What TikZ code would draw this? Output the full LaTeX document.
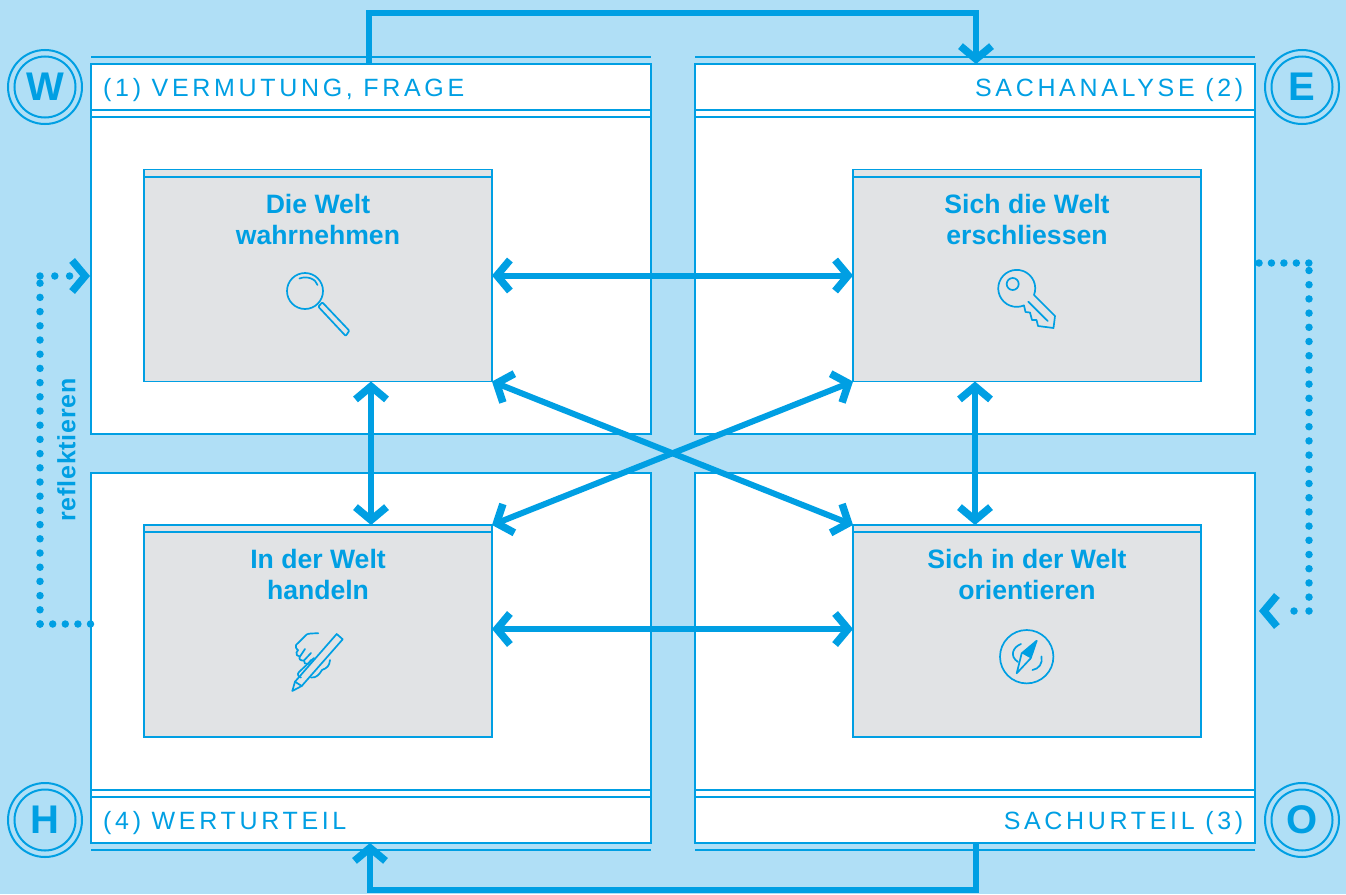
\documentclass[tikz,border=0pt]{standalone}
\usepackage{fontspec}
\setmainfont{Liberation Sans}
\newfontfamily\hdrfont[LetterSpace=14.7]{Liberation Sans}
\newfontfamily\reflfont[LetterSpace=3]{Liberation Sans Bold}
\usetikzlibrary{arrows.meta,calc}
\definecolor{bg}{HTML}{B0DFF6}
\definecolor{blue}{HTML}{009FE3}
\definecolor{greybox}{HTML}{E1E3E5}
\tikzset{
  panel/.style={draw=blue,line width=2pt,fill=white,minimum width=560pt,minimum height=370pt,inner sep=0pt,outer sep=0pt},
  inner box/.style={draw=blue,line width=1.6pt,fill=greybox,minimum width=348pt,minimum height=212pt,inner sep=0pt,outer sep=0pt},
  rule/.style={draw=blue,line width=1.8pt},
  stripe/.style={draw=blue,line width=1.6pt},
  hdr/.style={text=blue,inner sep=0pt,font=\hdrfont\fontsize{25}{30}\selectfont},
  ttl/.style={text=blue,inner sep=0pt,align=center,font=\bfseries\fontsize{26.6}{31}\selectfont},
  letterc/.style={draw=blue,line width=2pt,circle,minimum size=74pt,inner sep=0pt,text=blue,font=\bfseries\fontsize{40}{40}\selectfont},
  link/.style={draw=blue,line width=6pt},
  chev/.tip={Straight Barb[length=13pt,width=31pt,line width=7.5pt]},
  both/.style={link,chev-chev},
  one/.style={link,-chev},
  dots/.style={draw=blue,line width=7.5pt,line cap=round},
  icon/.style={draw=blue,line width=1.7pt,line join=round,line cap=round},
}
\begin{document}
\begin{tikzpicture}[x=1pt,y=-1pt]
\useasboundingbox (0,0) rectangle (1346,894);
\fill[bg] (0,0) rectangle (1346,894);
% panels
\node[panel] (tl) at (371,249) {};
\node[panel] (tr) at (975,249) {};
\node[panel] (bl) at (371,658) {};
\node[panel] (br) at (975,658) {};
% rules of the panels
\draw[rule] (91,57) -- (651,57) (91,110) -- (651,110) (91,117) -- (651,117);
\draw[rule] (695,57) -- (1255,57) (695,110) -- (1255,110) (695,117) -- (1255,117);
\draw[rule] (91,850) -- (651,850) (91,790) -- (651,790) (91,797) -- (651,797);
\draw[rule] (695,850) -- (1255,850) (695,790) -- (1255,790) (695,797) -- (1255,797);
% inner boxes
\node[inner box] (a) at (318,275.5) {};
\node[inner box] (b) at (1027,275.5) {};
\node[inner box] (c) at (318,631) {};
\node[inner box] (d) at (1027,631) {};
\draw[stripe] (144,177) -- (492,177) (853,177) -- (1201,177) (144,532) -- (492,532) (853,532) -- (1201,532);
% headers
\node[hdr,anchor=base west] (h1) at (103,96) {(1) VERMUTUNG, FRAGE};
\node[hdr,anchor=base east] (h2) at (1243.5,96) {SACHANALYSE (2)};
\node[hdr,anchor=base east] (h3) at (1243.5,829) {SACHURTEIL (3)};
\node[hdr,anchor=base west] (h4) at (103,829) {(4) WERTURTEIL};
% titles
\node[ttl,anchor=base] (t1) at (318,244) {Die Welt\\wahrnehmen};
\node[ttl,anchor=base] (t2) at (1027,244) {Sich die Welt\\erschliessen};
\node[ttl,anchor=base] (t3) at (318,599) {In der Welt\\handeln};
\node[ttl,anchor=base] (t4) at (1027,599) {Sich in der Welt\\orientieren};
% letter circles
\node[letterc] (cw) at (45,87) {W};
\node[letterc] (ce) at (1302,87) {E};
\node[letterc] (ch) at (45,820) {H};
\node[letterc] (co) at (1302,820) {O};
\foreach \n in {cw,ce,ch,co}{\draw[blue,line width=2pt] (\n) circle[radius=30.5pt];}
% two-way links
\draw[both] (a.east) -- (b.west);
\draw[both] ([yshift=2pt]c.east) -- ([yshift=2pt]d.west);
\draw[both] (tl.center |- a.south) -- (tl.center |- c.north);
\draw[both] (tr.center |- b.south) -- (tr.center |- d.north);
\draw[both] (a.south east) -- (d.north west);
\draw[both] (c.north east) -- (b.south west);
% top and bottom links
\coordinate (topa) at (369,64);
\coordinate (topb) at (976,64);
\coordinate (bota) at (976,843);
\coordinate (botb) at (370,843);
\draw[one] (topa) |- (976,13) -- (topb);
\draw[one] (bota) |- (370,890) -- (botb);
% dotted links
\coordinate (la) at (90.5,624);
\coordinate (lb) at (40,624);
\coordinate (lc) at (40,276);
\coordinate (ld) at (90,276);
\draw[dots,dash pattern=on 0pt off 12.6pt] (la) -- (lb);
\draw[dots,dash pattern=on 0pt off 14.2pt] (lb) -- (lc);
\draw[dots,dash pattern=on 0pt off 14.8pt] (lc) -- ++(30,0);
\draw[one] (84,276) -- (ld);
\coordinate (ra) at (1259,263);
\coordinate (rb) at (1309,263);
\coordinate (rc) at (1309,611);
\coordinate (rd) at (1259,611);
\draw[dots,dash pattern=on 0pt off 12.45pt] (ra) -- (rb);
\draw[dots,dash pattern=on 0pt off 14.2pt] (rb) ++(0,7.5) -- (rc);
\draw[dots,dash pattern=on 0pt off 15pt] (rc) -- ++(-30,0);
\draw[one] (1265,611) -- (rd);
\node[text=blue,inner sep=0pt,rotate=90,font=\reflfont\fontsize{25}{30}\selectfont] (refl) at (66.5,450) {reflektieren};
% magnifier
\draw[icon] (305,291) circle[radius=18pt];
\draw[icon] (299.5,278.5) .. controls (307,275.5) and (316,279) .. (317.5,285);
\draw[icon,rounded corners=1pt] (318.3,306.7) -- (322.3,302.3) -- (349.3,330.7) -- (345.7,336) -- cycle;
% key
\draw[icon] (1034,295) arc[start angle=-21,end angle=293,radius=18.5pt] -- (1025.5,312) -- (1030,312.5) -- (1032,320) -- (1036.5,320) -- (1038,326) -- (1053.5,328) -- (1055,316) -- cycle;
\draw[icon] (1012.7,284) circle[radius=6pt];
\draw[icon] (1028.3,301.7) -- (1047.7,321);
% hand and pencil
\draw[icon] (292.3,691) -- (295,681.7) -- (336.7,634) -- (342.7,639.3) -- (301.7,686) -- cycle;
\draw[icon] (295,681.7) -- (301.7,686);
\draw[icon] (318.3,633.3) .. controls (312,633.3) and (308,633.5) .. (306.7,634.5) -- (296,645) .. controls (295,647) and (296,648) .. (298,650.5);
\draw[icon] (298,650) -- (296.5,652.5) .. controls (296,655) and (297,656) .. (300,656.5) -- (305,649);
\draw[icon] (300,656.5) .. controls (298,659) and (301,661) .. (304,660.5) -- (311,653);
\draw[icon] (304,660.5) .. controls (303,663) and (306,664.5) .. (308,664) -- (311,660);
\draw[icon] (314,658) -- (299,672) .. controls (297,674) and (298,677) .. (301,677.5);
\draw[icon] (330,660) .. controls (329.5,666) and (327,668) .. (322,670) .. controls (319,675) and (316,678) .. (311,677.5);
% compass
\draw[icon] (1026.7,656.7) circle[radius=26.7pt];
\fill[blue] (1036.7,640.7) -- (1021.7,653.3) -- (1030.7,658.3) -- cycle;
\draw[icon] (1036.7,640.7) -- (1021.7,653.3) -- (1016.7,673.3) -- (1030.7,658.3) -- cycle;
\draw[icon] (1021,644) .. controls (1013,647) and (1009,656) .. (1018,662);
\draw[icon] (1041.5,656.5) .. controls (1043,663) and (1039,669) .. (1032.5,670);
\end{tikzpicture}
\end{document}
